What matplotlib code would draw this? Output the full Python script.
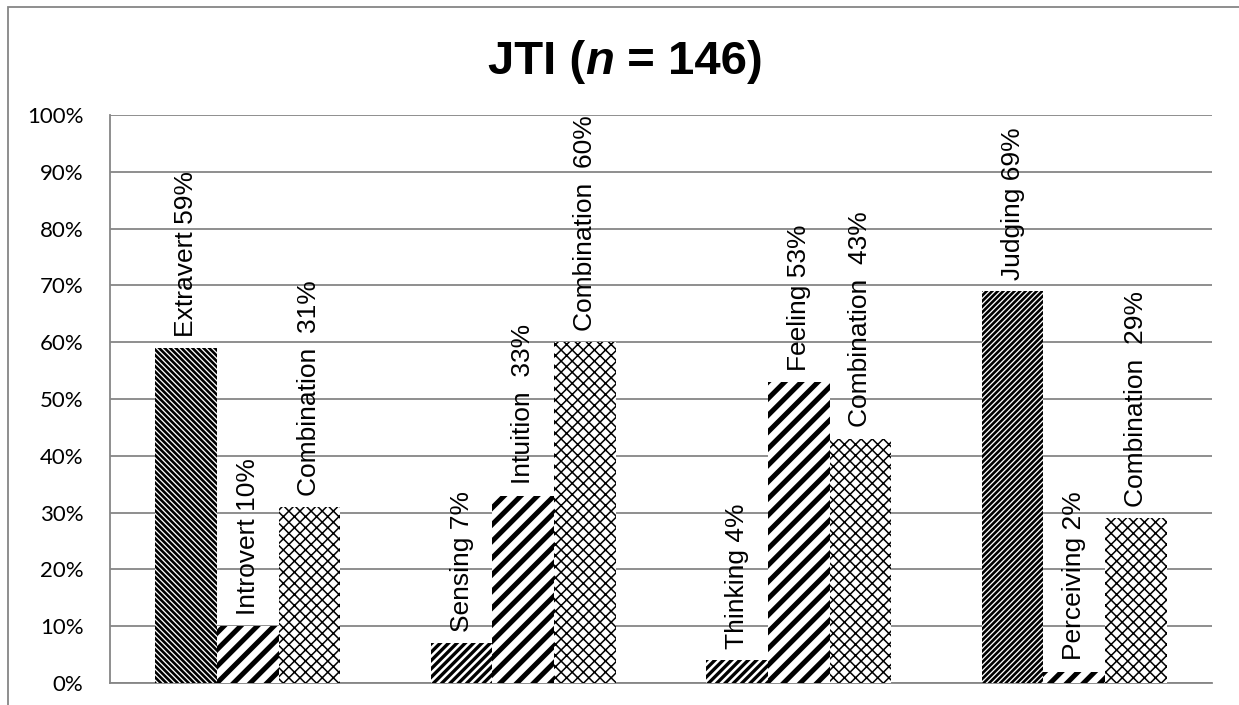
import matplotlib
matplotlib.use("Agg")
import matplotlib.pyplot as plt
from matplotlib.patches import Rectangle
import numpy as np

# donnees
groups = ["E/I", "S/N", "T/F", "J/P"]
first_labels = ["Extravert", "Sensing", "Thinking", "Judging"]
first_vals = [59, 7, 4, 69]
second_labels = ["Introvert", "Intuition ", "Feeling", "Perceiving"]
second_vals = [10, 33, 53, 2]
comb_vals = [31, 60, 43, 29]
yticks = [0, 10, 20, 30, 40, 50, 60, 70, 80, 90, 100]

# motifs de hachures par barre
first_hatch = ["\\" * 6, "////", "////", "/" * 6]
first_hlw = [1.9, 2.4, 2.4, 1.9]
second_hatch = ["//", "//", "//", "//"]
comb_hatch = "xxx"

fig = plt.figure(figsize=(12.39, 7.05), dpi=100)
ax = fig.add_axes([110/1239, 1-683/705, (1212-110)/1239, (683-115)/705])

x = np.arange(len(groups))
w = 0.224

def bars(xs, vals, hatch, hlw):
    for xi, v, h, lw in zip(xs, vals, hatch, hlw):
        b = ax.bar(xi, v, w, facecolor="white", edgecolor="black", linewidth=0, hatch=h, zorder=3)[0]
        if hasattr(b, "set_hatch_linewidth"):
            b.set_hatch_linewidth(lw)

plt.rcParams["hatch.linewidth"] = 2.0
bars(x - w, first_vals, first_hatch, first_hlw)
bars(x, second_vals, second_hatch, [3.6] * 4)
bars(x + w, comb_vals, [comb_hatch] * 4, [1.1] * 4)

lab_font = dict(family="Liberation Sans", fontsize=19, rotation=90, ha="center", va="bottom", zorder=4)
for i in range(len(groups)):
    ax.text(x[i] - w, first_vals[i] + 2, f"{first_labels[i]} {first_vals[i]}%", **lab_font)
    ax.text(x[i], second_vals[i] + 2, f"{second_labels[i]} {second_vals[i]}%", **lab_font)
    ax.text(x[i] + w, comb_vals[i] + 2, f"Combination  {comb_vals[i]}%", **lab_font)

ax.set_xlim(-0.5, 3.5)
ax.set_ylim(0, 100)
ax.set_yticks(yticks)
ax.set_yticklabels([f"{t}%" for t in yticks], family="Lato", fontsize=16)
ax.set_xticks([])
ax.tick_params(axis="y", length=0, pad=19)
ax.grid(axis="y", color="#868686", linewidth=1.3, zorder=0)
for s in ["top", "right"]:
    ax.spines[s].set_visible(False)
for s in ["left", "bottom"]:
    ax.spines[s].set_color("#868686")
    ax.spines[s].set_linewidth(1.3)

# titre en trois morceaux (n en italique), enchaines avec le renderer
ty = 1 - 74/705
tfont = dict(family="Liberation Sans", fontsize=34, fontweight="bold", va="baseline", ha="left")
pieces = [("JTI (", "normal"), ("n", "italic"), (" = 146)", "normal")]
rend = fig.canvas.get_renderer()
texts = [fig.text(0, ty, s, style=st, **tfont) for s, st in pieces]
widths = [t.get_window_extent(rend).width for t in texts]
W = fig.bbox.width
cur = 625 - sum(widths) / 2
for t, wd in zip(texts, widths):
    t.set_x(cur / W)
    cur += wd

fig.add_artist(Rectangle((8/1239, -0.1), 1.5, 1.1 - 7/705, transform=fig.transFigure,
                         fill=False, edgecolor="#868686", linewidth=1.3))

fig.savefig("out.png", dpi=100)
